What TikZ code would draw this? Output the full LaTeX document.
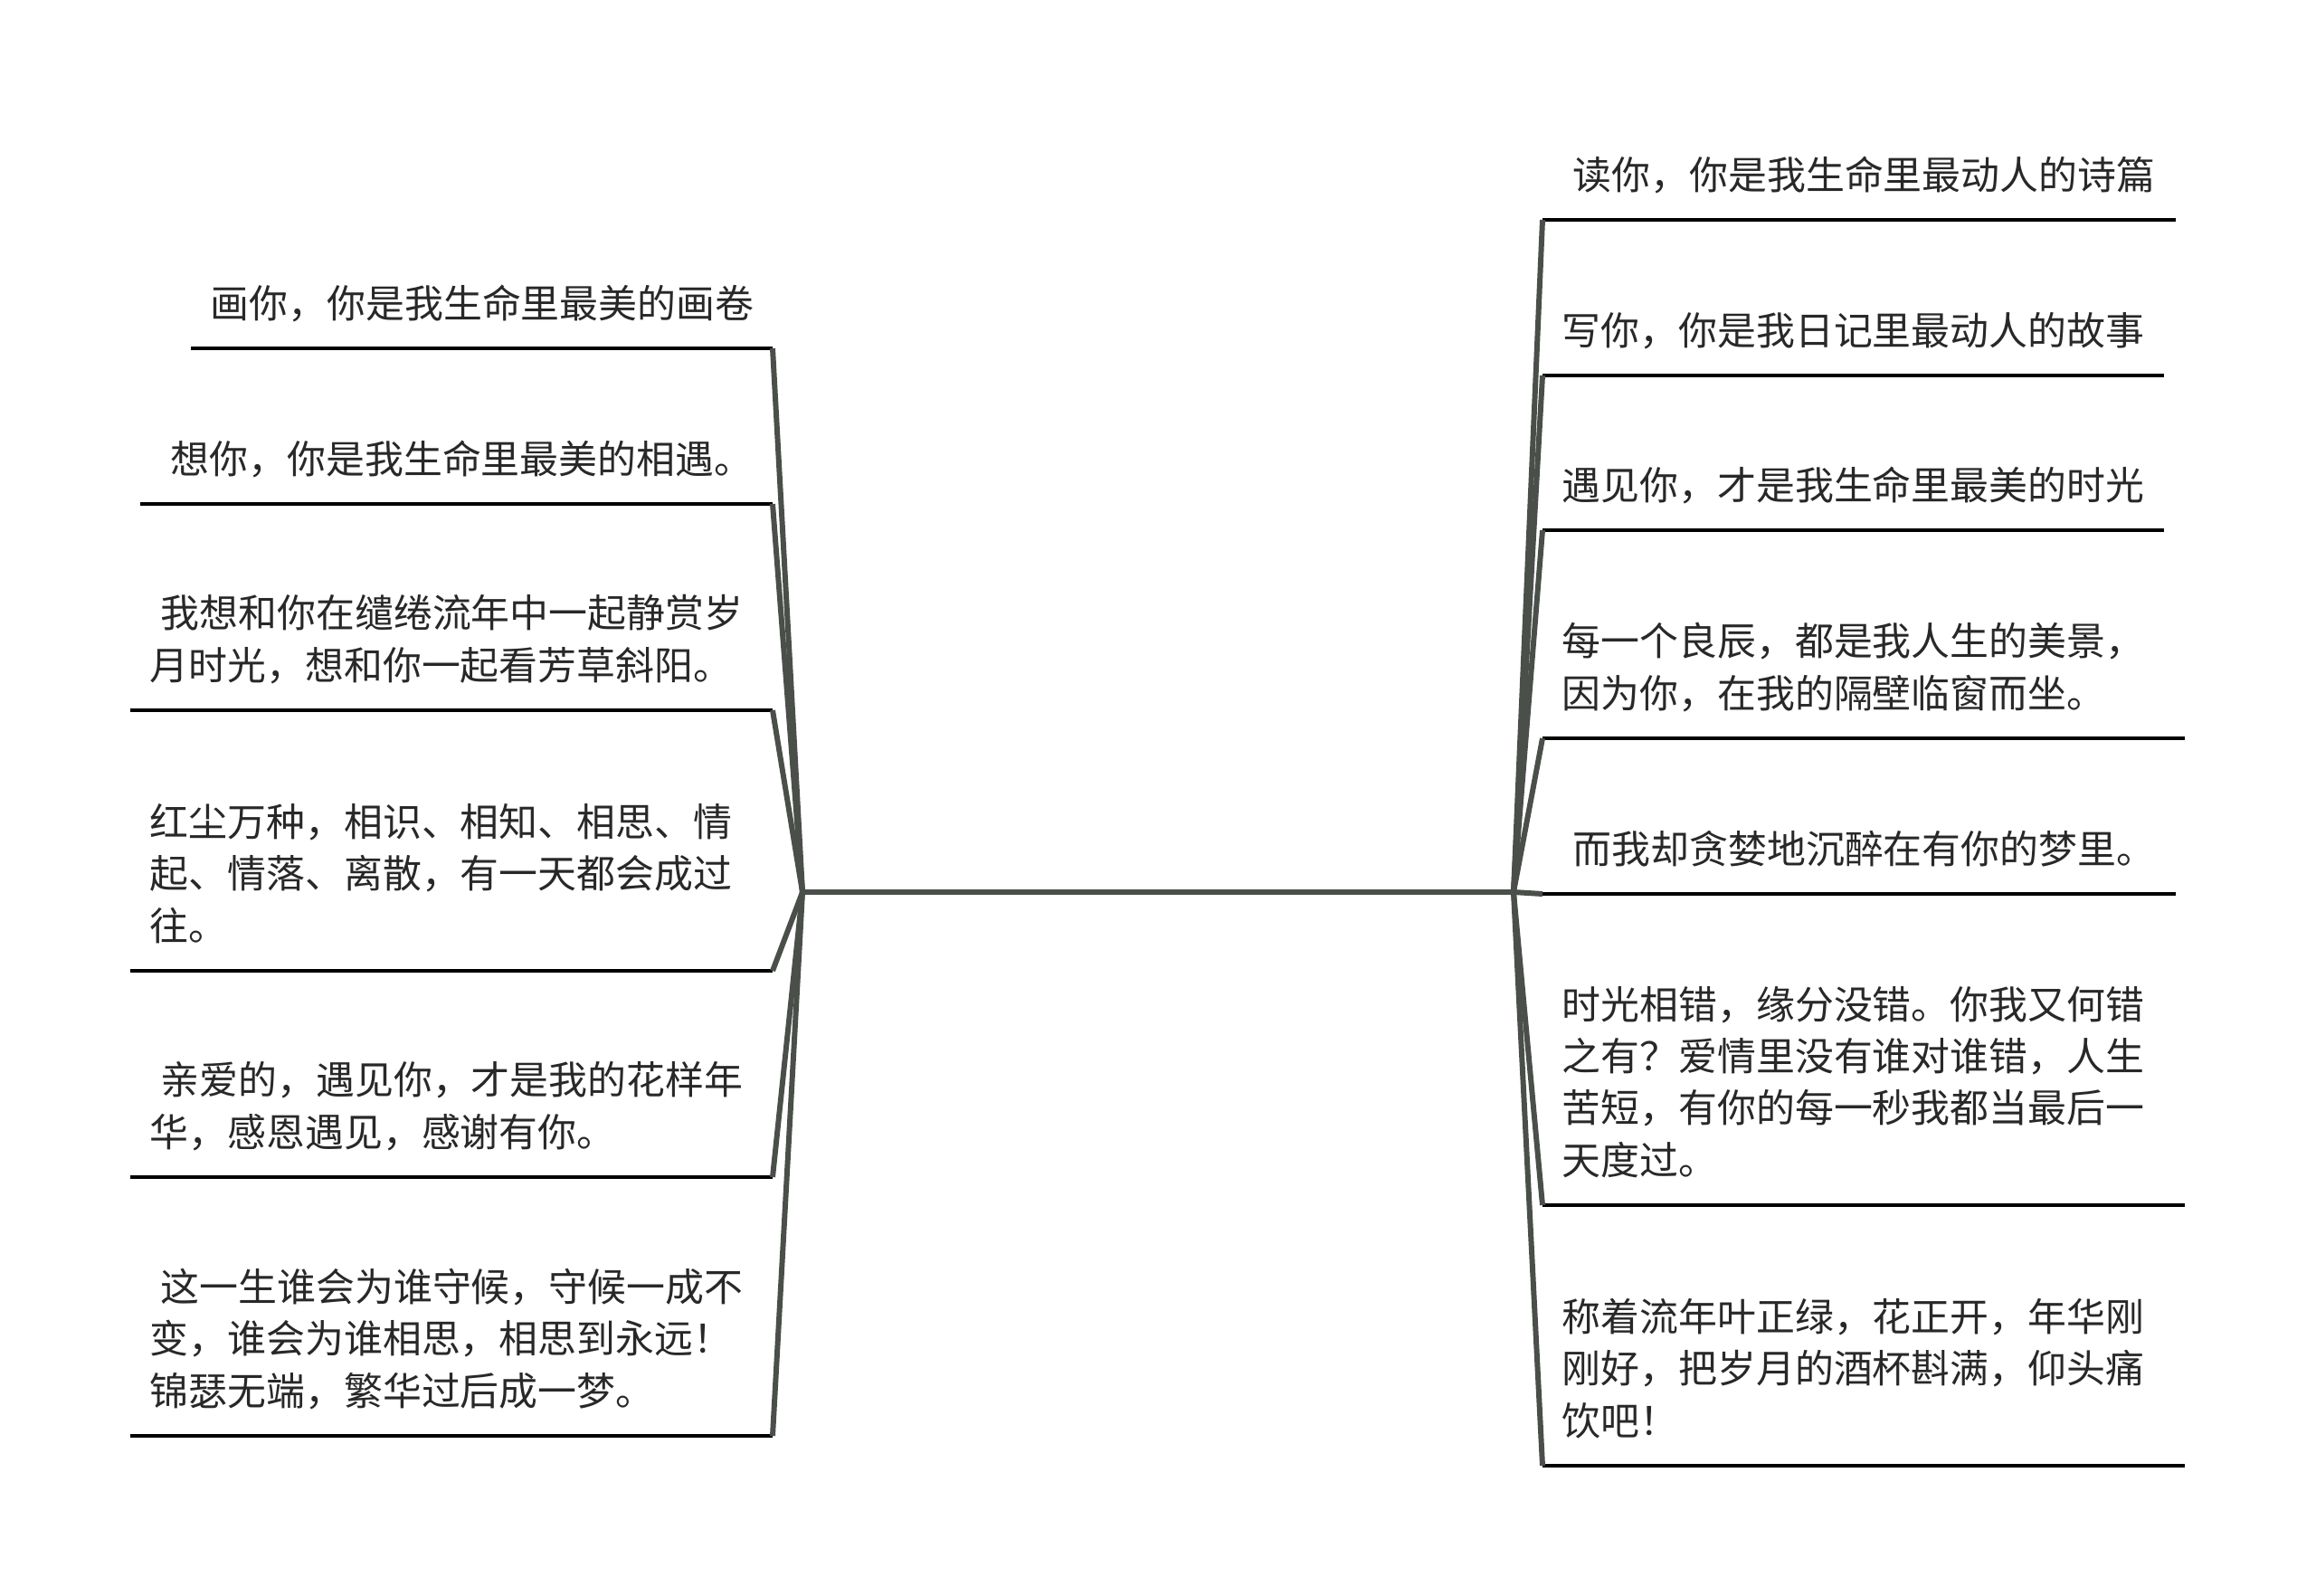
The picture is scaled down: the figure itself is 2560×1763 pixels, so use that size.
\documentclass[tikz,border=0pt]{standalone}
\usepackage{fontspec}
\newfontfamily\cjk{Noto Sans CJK SC}
\usepackage{xcolor}
\definecolor{stemgray}{RGB}{74,79,74}
\definecolor{leaftext}{RGB}{40,40,40}

\begin{document}
\begin{tikzpicture}[x=0.01cm,y=-0.01cm,
    leaf/.style={anchor=base west,inner sep=0pt,align=left,text=leaftext,
      font=\cjk\fontsize{12.2pt}{16.25pt}\selectfont},
    uline/.style={line width=1.4pt,black},
    stem/.style={line width=1.7pt,stemgray}]
    \useasboundingbox (0,0) rectangle (2560,1763);
    \coordinate (L) at (887,986);
    \coordinate (R) at (1673,986);

    % left branches
    \coordinate (Ls1) at (211,385);  \coordinate (Le1) at (854,385);
    \coordinate (Ls2) at (155,557);  \coordinate (Le2) at (854,557);
    \coordinate (Ls3) at (144,785);  \coordinate (Le3) at (854,785);
    \coordinate (Ls4) at (144,1073); \coordinate (Le4) at (854,1073);
    \coordinate (Ls5) at (144,1301); \coordinate (Le5) at (854,1301);
    \coordinate (Ls6) at (144,1587); \coordinate (Le6) at (854,1587);

    \node[leaf] (TL1) at (232,351) {画你，你是我生命里最美的画卷};
    \node[leaf] (TL2) at (176,523) {\hspace*{0.12cm}想你，你是我生命里最美的相遇。};
    \node[leaf] (TL3) at (165,751) {\hspace*{0.12cm}我想和你在缱绻流年中一起静赏岁\\月时光，想和你一起看芳草斜阳。};
    \node[leaf] (TL4) at (165,1039) {红尘万种，相识、相知、相思、情\\起、情落、离散，有一天都会成过\\往。};
    \node[leaf] (TL5) at (165,1267) {\hspace*{0.12cm}亲爱的，遇见你，才是我的花样年\\华，感恩遇见，感谢有你。};
    \node[leaf] (TL6) at (165,1553) {\hspace*{0.12cm}这一生谁会为谁守候，守候一成不\\变，谁会为谁相思，相思到永远！\\锦瑟无端，繁华过后成一梦。};

    % right branches
    \coordinate (Rs1) at (1705,243);  \coordinate (Re1) at (2405,243);
    \coordinate (Rs2) at (1705,415);  \coordinate (Re2) at (2392,415);
    \coordinate (Rs3) at (1705,586);  \coordinate (Re3) at (2392,586);
    \coordinate (Rs4) at (1705,816);  \coordinate (Re4) at (2415,816);
    \coordinate (Rs5) at (1705,988);  \coordinate (Re5) at (2405,988);
    \coordinate (Rs6) at (1705,1332); \coordinate (Re6) at (2415,1332);
    \coordinate (Rs7) at (1705,1620); \coordinate (Re7) at (2415,1620);

    \node[leaf] (TR1) at (1726,209) {\hspace*{0.12cm}读你，你是我生命里最动人的诗篇};
    \node[leaf] (TR2) at (1726,381) {写你，你是我日记里最动人的故事};
    \node[leaf] (TR3) at (1726,552) {遇见你，才是我生命里最美的时光};
    \node[leaf] (TR4) at (1726,782) {每一个良辰，都是我人生的美景，\\因为你，在我的隔壁临窗而坐。};
    \node[leaf] (TR5) at (1726,954) {\hspace*{0.12cm}而我却贪婪地沉醉在有你的梦里。};
    \node[leaf] (TR6) at (1726,1298) {时光相错，缘分没错。你我又何错\\之有？爱情里没有谁对谁错，人生\\苦短，有你的每一秒我都当最后一\\天度过。};
    \node[leaf] (TR7) at (1726,1586) {称着流年叶正绿，花正开，年华刚\\刚好，把岁月的酒杯斟满，仰头痛\\饮吧！};

    \foreach \s in {1,...,6} {\draw[uline] (Ls\s) -- (Le\s);}
    \foreach \s in {1,...,7} {\draw[uline] (Rs\s) -- (Re\s);}
    \foreach \s in {1,...,6} {\draw[stem] (L) -- (Le\s);}
    \foreach \s in {1,...,7} {\draw[stem] (R) -- (Rs\s);}
    \draw[stem] (L) -- (R);
\end{tikzpicture}
\end{document}
